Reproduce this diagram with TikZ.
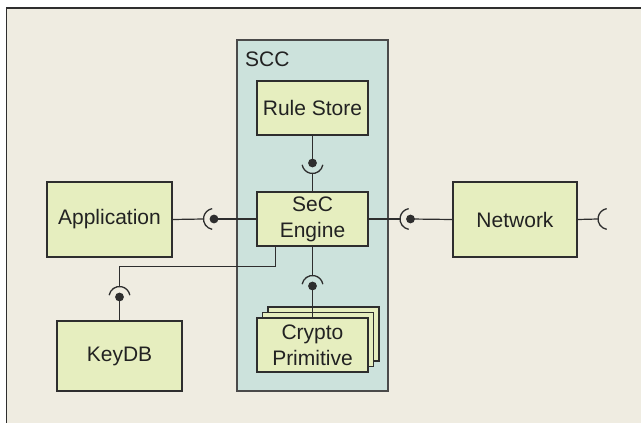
\documentclass[tikz,border=0pt]{standalone}
\usepackage{fontspec}
\setmainfont{Liberation Sans}
\usetikzlibrary{calc}

\definecolor{paper}{HTML}{EFECE1}
\definecolor{boxfill}{HTML}{E6EEBF}
\definecolor{sccfill}{HTML}{CCE2DC}
\definecolor{edge}{HTML}{2E2E2E}
\definecolor{frameedge}{HTML}{4A4A4A}
\definecolor{ink}{HTML}{222222}

\tikzset{
  comp/.style={draw=edge, line width=1.3pt, fill=boxfill, text=ink,
    font=\fontsize{21}{26}\selectfont, align=center, inner sep=0pt},
  wire/.style={draw=edge, line width=1.2pt},
  ball/.style={fill=edge},
  socket/.style={draw=edge, line width=1.3pt},
}

\begin{document}
\begin{tikzpicture}[x=1pt, y=-1pt]
  \useasboundingbox (0,0) rectangle (641,423);
  \fill[white] (0,0) rectangle (641,423);

  % paper background with top and left frame lines
  \fill[paper] (6.5,8) rectangle (641,423);
  \draw[edge, line width=1.4pt] (6.5,423) -- (6.5,8) -- (641,8);

  % SCC container
  \node[draw=frameedge, line width=1.5pt, fill=sccfill,
        minimum width=151pt, minimum height=351pt, inner sep=0pt] (scc) at (312.5,215.5) {};
  \node[anchor=base west, text=ink, font=\fontsize{21}{26}\selectfont, inner sep=0pt] (scclabel) at (245,66) {SCC};

  % components
  \node[comp, minimum width=125pt, minimum height=75pt] (app) at (109.5,219.5) {Application};
  \node[comp, minimum width=125pt, minimum height=70pt] (keydb) at (119.5,356) {KeyDB};
  \node[comp, minimum width=111pt, minimum height=54pt] (rule) at (312.5,108) {Rule Store};
  \node[comp, minimum width=111pt, minimum height=54pt] (sec) at (312.5,219) {SeC\\Engine};
  \node[comp, minimum width=111pt, minimum height=54pt] (cryptoC) at (323.5,334) {};
  \node[comp, minimum width=111pt, minimum height=54pt] (cryptoB) at (318,339.5) {};
  \node[comp, minimum width=111pt, minimum height=54pt] (crypto) at (312.5,345) {Crypto\\Primitive};
  \node[comp, minimum width=124pt, minimum height=75pt] (net) at (515,219.5) {Network};

  % ball-and-socket centres
  \coordinate (b1) at (214,219);
  \coordinate (b2) at (312.5,163);
  \coordinate (b3) at (312.5,286);
  \coordinate (b4) at (410.5,219);
  \coordinate (s5) at (608.5,219);
  \coordinate (b6) at (119.5,297);

  % Application -- SeC Engine
  \draw[wire] (app.east) -- ($(b1)+(-10.5,0)$);
  \draw[wire] (b1) -- (sec.west);
  \draw[socket] ($(b1)+(100:10.5)$) arc (100:260:10.5);
  \fill[ball] (b1) circle (4.4);

  % Rule Store -- SeC Engine
  \draw[wire] (rule.south) -- (b2);
  \draw[wire] ($(b2)+(0,10.5)$) -- (sec.north);
  \draw[socket] ($(b2)+(10:10.5)$) arc (10:170:10.5);
  \fill[ball] (b2) circle (4.4);

  % SeC Engine -- Crypto Primitive
  \draw[wire] (sec.south) -- ($(b3)+(0,-10.5)$);
  \draw[wire] (b3) -- (crypto.north);
  \draw[socket] ($(b3)+(190:10.5)$) arc (190:350:10.5);
  \fill[ball] (b3) circle (4.4);

  % SeC Engine -- Network
  \draw[wire] (sec.east) -- ($(b4)+(-10.5,0)$);
  \draw[wire] (b4) -- (net.west);
  \draw[socket] ($(b4)+(100:10.5)$) arc (100:260:10.5);
  \fill[ball] (b4) circle (4.4);

  % Network open socket
  \draw[wire] (net.east) -- ($(s5)+(-10.5,0)$);
  \draw[socket] ($(s5)+(100:10.5)$) arc (100:260:10.5);

  % SeC Engine -- KeyDB
  \draw[wire] ($(sec.south west)+(19,0)$) -- ++(0,20) -| ($(b6)+(0,-10.5)$);
  \draw[wire] (b6) -- (keydb.north);
  \draw[socket] ($(b6)+(190:10.5)$) arc (190:350:10.5);
  \fill[ball] (b6) circle (4.4);
\end{tikzpicture}
\end{document}
